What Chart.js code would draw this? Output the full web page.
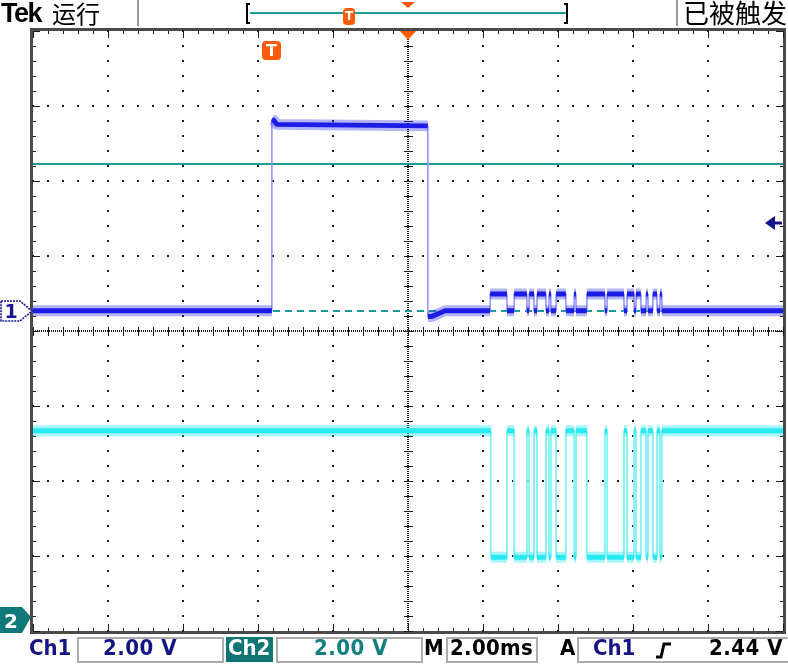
<!DOCTYPE html>
<html><head><meta charset="utf-8">
<script src="https://cdn.jsdelivr.net/npm/chart.js@4/dist/chart.umd.min.js"></script>
<style>
html,body{margin:0;padding:0;background:#fff;}
#wrap{position:relative;width:788px;height:665px;overflow:hidden;background:#fff;}
canvas{position:absolute;left:0;top:0;}
.abs{position:absolute;white-space:nowrap;}
.bt{font-family:"DejaVu Sans Condensed","DejaVu Sans",sans-serif;font-weight:bold;font-size:22px;line-height:22px;top:637px;}
.box{position:absolute;border:2px solid #ababab;top:637px;height:26px;box-sizing:border-box;}
.cjk{font-family:"Noto Sans CJK SC",sans-serif;color:#000;}
.sep{position:absolute;top:0;width:2px;height:26px;background:#9a9a9a;}
.tmark{position:absolute;background:#ff5a0a;color:#fff;font-family:"DejaVu Sans",sans-serif;font-weight:bold;text-align:center;border-radius:4px;}
</style></head>
<body>
<div id="wrap">
<canvas id="c" width="788" height="665"></canvas>

<!-- top status bar -->
<div class="abs" style="left:1px;top:0px;font-family:'Liberation Sans',sans-serif;font-weight:bold;font-size:27px;line-height:27px;letter-spacing:-1.5px;color:#000;">Tek</div>
<div class="abs cjk" style="left:52px;top:1px;font-size:24px;line-height:24px;">运行</div>
<div class="sep" style="left:137px;"></div>
<div class="abs" style="left:246px;top:3px;width:4px;height:21px;border:2px solid #000;border-right:none;box-sizing:border-box;"></div>
<div class="abs" style="left:250px;top:12px;width:316px;height:2px;background:#1b9c9a;"></div>
<div class="abs" style="left:564px;top:3px;width:4px;height:21px;border:2px solid #000;border-left:none;box-sizing:border-box;"></div>
<div class="tmark" style="left:343px;top:8px;width:12px;height:17px;font-size:12px;line-height:17px;">T</div>
<svg class="abs" style="left:401px;top:1px;" width="14" height="8"><polygon points="0,1 14,1 7,7" fill="#ff5a0a"/></svg>
<div class="sep" style="left:676px;"></div>
<div class="abs cjk" style="left:683px;top:-1px;font-size:26px;line-height:26px;">已被触发</div>

<!-- channel ground markers and trigger marker (placed from the chart scales) -->
<svg id="m1" class="abs" style="left:0;top:0;" width="34" height="22">
  <polygon points="1,1 20,1 32,11 20,21 1,21" fill="#fff" stroke="#16169a" stroke-width="1.6" stroke-dasharray="2 1"/>
  <text x="11" y="18" text-anchor="middle" font-family="DejaVu Sans" font-weight="bold" font-size="19" fill="#16169a">1</text>
</svg>
<svg id="m2" class="abs" style="left:0;top:0;" width="33" height="26">
  <polygon points="0,0 22,0 31,10 22,26 0,26" fill="#0f7878"/>
  <text x="11" y="21" text-anchor="middle" font-family="DejaVu Sans" font-weight="bold" font-size="20" fill="#fff">2</text>
</svg>
<div id="tm" class="tmark" style="width:19px;height:19px;font-size:16px;line-height:19px;">T</div>

<!-- bottom status bar -->
<div class="abs bt" style="left:29px;color:#141487;">Ch1</div>
<div class="box" style="left:77px;width:147px;"></div>
<div class="abs bt" style="left:103px;color:#141487;letter-spacing:0.5px;">2.00 V</div>
<div class="abs" style="left:226px;top:637px;width:47px;height:25px;background:#0f7474;"></div>
<div class="abs bt" style="left:228px;color:#fff;">Ch2</div>
<div class="box" style="left:276px;width:147px;"></div>
<div class="abs bt" style="left:314px;color:#11807f;letter-spacing:0.5px;">2.00 V</div>
<div class="abs bt" style="left:424px;color:#000;">M</div>
<div class="box" style="left:446px;width:92px;"></div>
<div class="abs bt" style="left:450px;color:#000;letter-spacing:0.3px;">2.00ms</div>
<div class="abs bt" style="left:560px;color:#000;">A</div>
<div class="box" style="left:577px;width:220px;"></div>
<div class="abs bt" style="left:593px;color:#141487;">Ch1</div>
<svg class="abs" style="left:655px;top:642px;" width="18" height="18"><polyline points="1,15 6,15 9,2 16,2" fill="none" stroke="#000" stroke-width="3"/></svg>
<div class="abs bt" style="left:709px;color:#000;letter-spacing:0.5px;">2.44 V</div>
</div>

<script>
const timeDivMs = 2;                 // M 2.00ms per division
const voltsPerDiv = [2, 2];          // Ch1 2.00 V, Ch2 2.00 V
const timeRangeMs = [-10, 10];       // 10 divisions, centre marker at 0
const ch1GroundDiv = 0.27;           // Ch1 ground marker, divisions above centre
const ch2GroundDiv = -3.81;          // Ch2 ground marker, divisions below centre

// Ch1: main pulse (time ms, volts)
const ch1PulseTimes = [-10, -3.63, -3.63, -3.58, -3.50, 0.53, 0.53, 0.64, 0.99, 2.19];
const ch1PulseVolts = [0.00, 0.00, 5.10, 5.08, 4.97, 4.93, -0.15, -0.15, 0.00, 0.00];
// Ch1: small crosstalk steps during the Ch2 burst (edge times, ms) and its two levels (V)
const ch1BurstEdges = [2.19, 2.64, 2.83, 3.17, 3.23, 3.36, 3.44, 3.68, 3.76, 3.81, 3.95, 4.21, 4.43, 4.48,
                       4.77, 5.25, 5.31, 5.76, 5.84, 6.03, 6.08, 6.21, 6.35, 6.40, 6.53, 6.64, 6.72, 6.77];
const ch1BurstLevels = [0.00, 0.45];
// Ch2: serial burst, edge times (ms) starting from the high level, and its two levels (V)
const ch2Edges = [2.21, 2.64, 2.83, 3.17, 3.23, 3.36, 3.44, 3.68, 3.76, 3.81, 3.95, 4.21, 4.43, 4.48,
                  4.77, 5.25, 5.31, 5.76, 5.84, 6.03, 6.08, 6.21, 6.35, 6.40, 6.53, 6.64, 6.72, 6.77];
const ch2Levels = [4.96, 1.59];

const trigTimeMs = -3.63;            // T marker (Ch1 rising edge)
const trigArrowV = 2.35;             // trigger level arrow on Ch1
const refLineV = 3.92;               // teal horizontal reference line (Ch1 volts)

// ---------------- build point tables ----------------
function stepWave(edges, levels, t0, t1) {
  const pts = [{x: t0, y: levels[0]}];
  let k = 0;
  edges.forEach(t => { pts.push({x: t, y: levels[k]}); k = 1 - k; pts.push({x: t, y: levels[k]}); });
  pts.push({x: t1, y: levels[k]});
  return pts;
}
function holdSegments(pts) {           // keep flat parts, drop the vertical edges
  const out = [];
  pts.forEach((p, i) => {
    if (i > 0 && Math.abs(p.x - pts[i - 1].x) < 1e-9) out.push({x: p.x, y: null});
    out.push(p);
  });
  return out;
}
const ch1Pts = ch1PulseTimes.map((t, i) => ({x: t, y: ch1PulseVolts[i]}))
  .concat(stepWave(ch1BurstEdges, ch1BurstLevels, ch1PulseTimes[ch1PulseTimes.length - 1], timeRangeMs[1]));
const ch2Pts = stepWave(ch2Edges, ch2Levels, timeRangeMs[0], timeRangeMs[1]);

const TEAL = '#1b9c9a';

const graticule = {
  id: 'graticule',
  beforeDatasetsDraw(chart) {
    const {ctx, chartArea: a} = chart;
    const xs = chart.scales.x, gy = chart.scales.y, y1 = chart.scales.yc1;
    ctx.save();
    ctx.strokeStyle = '#4a4a4a'; ctx.lineWidth = 3;
    ctx.strokeRect(a.left - 1.5, a.top - 1.5, a.width + 3, a.height + 3);
    ctx.fillStyle = '#1c1c1c';
    const minorX = timeDivMs / 5;
    const nx = Math.round((timeRangeMs[1] - timeRangeMs[0]) / minorX);
    const xMinor = [], yMinor = [];
    for (let i = 0; i <= nx; i++) xMinor.push(timeRangeMs[0] + i * minorX);
    for (let i = 0; i <= 40; i++) yMinor.push(-4 + i * 0.2);
    for (let t = timeRangeMs[0] + timeDivMs; t < timeRangeMs[1] - 1e-6; t += timeDivMs) {
      const px = Math.round(xs.getPixelForValue(t));
      if (Math.abs(t) < 1e-6) {
        for (let py = a.top; py < a.bottom; py += 2) ctx.fillRect(px - 1, py, 2, 1);
        yMinor.forEach(v => { const py = Math.round(gy.getPixelForValue(v)); ctx.fillRect(px - 4, py, 9, 1); });
      } else {
        yMinor.forEach(v => { const py = Math.round(gy.getPixelForValue(v)); ctx.fillRect(px - 1, py - 1, 2, 2); });
      }
    }
    for (let d = -3; d <= 3; d++) {
      const py = Math.round(gy.getPixelForValue(d));
      if (d === 0) {
        for (let px = a.left; px < a.right; px += 2) ctx.fillRect(px, py - 1, 1, 2);
        xMinor.forEach(t => { const px = Math.round(xs.getPixelForValue(t)); ctx.fillRect(px, py - 4, 1, 9); });
      } else {
        xMinor.forEach(t => { const px = Math.round(xs.getPixelForValue(t)); ctx.fillRect(px - 1, py - 1, 2, 2); });
      }
    }
    xMinor.forEach((t, i) => {
      const px = Math.round(xs.getPixelForValue(t));
      const len = (i % 5 === 0) ? 7 : 3;
      ctx.fillRect(px, a.top, 1, len); ctx.fillRect(px, a.bottom - len, 1, len);
    });
    yMinor.forEach((v, i) => {
      const py = Math.round(gy.getPixelForValue(v));
      const len = (i % 5 === 0) ? 7 : 3;
      ctx.fillRect(a.left, py, len, 1); ctx.fillRect(a.right - len, py, len, 1);
    });
    ctx.strokeStyle = TEAL; ctx.lineWidth = 2;
    let py = Math.round(y1.getPixelForValue(refLineV));
    ctx.beginPath(); ctx.moveTo(a.left, py); ctx.lineTo(a.right, py); ctx.stroke();
    py = Math.round(y1.getPixelForValue(0));
    ctx.setLineDash([7, 5]);
    ctx.beginPath(); ctx.moveTo(a.left, py); ctx.lineTo(a.right, py); ctx.stroke();
    ctx.restore();
  },
  afterDatasetsDraw(chart) {
    const {ctx, chartArea: a} = chart;
    const xs = chart.scales.x, y1 = chart.scales.yc1;
    ctx.save();
    const cx = Math.round(xs.getPixelForValue(0));
    ctx.fillStyle = '#ff5a0a';
    ctx.beginPath(); ctx.moveTo(cx - 8, a.top); ctx.lineTo(cx + 8, a.top); ctx.lineTo(cx, a.top + 9); ctx.closePath(); ctx.fill();
    const ty = Math.round(y1.getPixelForValue(trigArrowV));
    ctx.fillStyle = '#12128c'; ctx.strokeStyle = '#12128c'; ctx.lineWidth = 3;
    ctx.beginPath(); ctx.moveTo(a.right - 18, ty); ctx.lineTo(a.right - 8, ty - 7); ctx.lineTo(a.right - 8, ty + 7); ctx.closePath(); ctx.fill();
    ctx.beginPath(); ctx.moveTo(a.right - 9, ty); ctx.lineTo(a.right - 1, ty); ctx.stroke();
    ctx.restore();
  },
  afterRender(chart) {
    const y1 = chart.scales.yc1, y2 = chart.scales.yc2, xs = chart.scales.x, a = chart.chartArea;
    const m1 = document.getElementById('m1'), m2 = document.getElementById('m2'), tm = document.getElementById('tm');
    m1.style.top = (Math.round(y1.getPixelForValue(0)) - 11) + 'px';
    m2.style.top = (Math.round(y2.getPixelForValue(0)) - 10) + 'px';
    tm.style.left = (Math.round(xs.getPixelForValue(trigTimeMs)) - 10) + 'px';
    tm.style.top = (a.top + 10) + 'px';
  }
};

const base = {pointRadius: 0, tension: 0, spanGaps: false, fill: false, borderJoinStyle: 'round'};
new Chart(document.getElementById('c'), {
  type: 'line',
  data: {
    datasets: [
      Object.assign({label: 'Ch1', data: holdSegments(ch1Pts), yAxisID: 'yc1', borderColor: '#1c1ce6', borderWidth: 5, order: 1}, base),
      Object.assign({label: 'Ch1 noise', data: holdSegments(ch1Pts), yAxisID: 'yc1', borderColor: 'rgba(40,40,235,0.35)', borderWidth: 11, order: 2}, base),
      Object.assign({label: 'Ch1 edges', data: ch1Pts, yAxisID: 'yc1', borderColor: '#9090ff', borderWidth: 1.5, order: 3}, base),
      Object.assign({label: 'Ch2', data: holdSegments(ch2Pts), yAxisID: 'yc2', borderColor: '#28e8f0', borderWidth: 5, order: 1}, base),
      Object.assign({label: 'Ch2 noise', data: holdSegments(ch2Pts), yAxisID: 'yc2', borderColor: 'rgba(40,232,240,0.4)', borderWidth: 11, order: 2}, base),
      Object.assign({label: 'Ch2 edges', data: ch2Pts, yAxisID: 'yc2', borderColor: '#88f4f8', borderWidth: 2, order: 3}, base)
    ]
  },
  options: {
    responsive: false, animation: false, events: [],
    layout: {padding: {left: 33, top: 31, right: 5, bottom: 34}},
    plugins: {legend: {display: false}, tooltip: {enabled: false}},
    scales: {
      x: {type: 'linear', min: timeRangeMs[0], max: timeRangeMs[1], display: false},
      y: {type: 'linear', min: -4, max: 4, display: false},
      yc1: {type: 'linear', min: (-4 - ch1GroundDiv) * voltsPerDiv[0], max: (4 - ch1GroundDiv) * voltsPerDiv[0], display: false},
      yc2: {type: 'linear', min: (-4 - ch2GroundDiv) * voltsPerDiv[1], max: (4 - ch2GroundDiv) * voltsPerDiv[1], display: false}
    }
  },
  plugins: [graticule]
});
</script>
</body></html>
